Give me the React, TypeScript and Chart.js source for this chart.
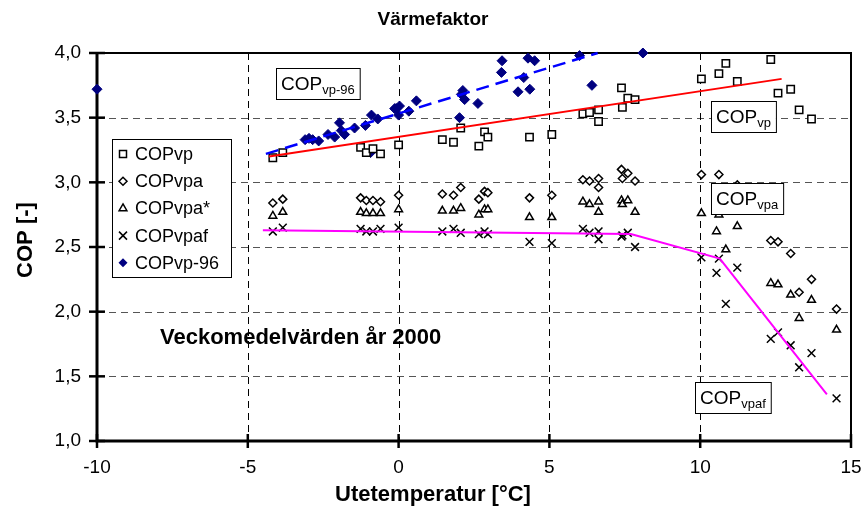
import React, { useEffect, useRef } from 'react';
import { Chart, registerables } from 'chart.js';

Chart.register(...registerables);

// Weekly mean outdoor temperatures (year 2000) and COP values
const weekTemps = [-4.17, -3.84, -1.26, -1.07, -0.85, -0.6, 0.0, 1.45, 1.82, 2.06, 2.66, 2.85, 2.96, 4.34, 5.08, 6.11, 6.33, 6.63, 6.63, 7.39, 7.42, 7.6, 7.84, 10.04, 10.62, 10.54, 10.85, 11.23, 12.34, 12.58, 13.0, 13.28, 13.69, 14.52];
const copVp = [3.19, 3.23, 3.27, 3.23, 3.26, 3.22, 3.29, 3.33, 3.31, 3.42, 3.28, 3.39, 3.35, 3.35, 3.37, 3.53, 3.54, 3.56, 3.47, 3.73, 3.58, 3.65, 3.64, 3.80, 3.84, null, 3.92, 3.78, 3.95, 3.69, 3.72, 3.56, 3.49, null];
const copVpa = [2.84, 2.87, 2.88, 2.86, 2.86, 2.85, 2.90, 2.91, 2.90, 2.96, 2.87, 2.93, 2.92, 2.88, 2.90, 3.02, 3.01, 3.03, 2.96, 3.10, 3.03, 3.07, 3.01, 3.06, 3.06, 2.92, 2.90, 2.98, 2.55, 2.54, 2.45, 2.15, 2.25, 2.02];
const copVpaStar = [2.74, 2.77, 2.77, 2.76, 2.76, 2.76, 2.79, 2.78, 2.78, 2.80, 2.75, 2.79, 2.79, 2.73, 2.73, 2.85, 2.83, 2.85, 2.77, 2.86, 2.83, 2.86, 2.77, 2.76, 2.75, 2.62, 2.48, 2.66, 2.22, 2.21, 2.13, 1.95, 2.09, 1.86];
const copVpaf = [2.62, 2.65, 2.64, 2.62, 2.62, 2.64, 2.65, 2.62, 2.64, 2.61, 2.60, 2.62, 2.60, 2.54, 2.53, 2.64, 2.61, 2.62, 2.56, 2.58, 2.59, 2.61, 2.50, 2.42, 2.41, 2.30, 2.06, 2.34, 1.79, 1.84, 1.74, 1.57, 1.68, 1.33];

// COPvp-96 (1996 data)
const temps96 = [-10.0, -3.1, -2.97, -2.85, -2.65, -2.34, -2.12, -1.96, -1.9, -1.79, -1.46, -1.1, -0.93, -0.9, -0.69, -0.13, -0.08, 0.0, 0.03, 0.34, 0.59, 2.02, 2.08, 2.13, 2.19, 2.63, 3.41, 3.43, 3.96, 4.15, 4.29, 4.35, 4.51, 6.0, 6.41, 8.1];
const copVp96 = [3.72, 3.33, 3.34, 3.33, 3.32, 3.37, 3.35, 3.46, 3.40, 3.37, 3.42, 3.44, 3.23, 3.52, 3.49, 3.57, 3.57, 3.52, 3.59, 3.55, 3.63, 3.50, 3.68, 3.71, 3.64, 3.61, 3.85, 3.94, 3.70, 3.81, 3.96, 3.72, 3.94, 3.98, 3.75, 4.0];

// Trend lines
const trendVpX = [-4.3, 12.7];
const trendVpY = [3.2, 3.8];
const trendVp96X = [-4.4, 6.6];
const trendVp96Y = [3.22, 4.0];
const trendVpafX = [-4.5, 7.7, 10.65, 14.2];
const trendVpafY = [2.63, 2.6, 2.41, 1.36];

const xTickValues = [-10, -5, 0, 5, 10, 15];
const yTickValues = [1.0, 1.5, 2.0, 2.5, 3.0, 3.5, 4.0];

const legendItems = ['COPvp', 'COPvpa', 'COPvpa*', 'COPvpaf', 'COPvp-96'];

const FONT = 'Arial, "Liberation Sans", sans-serif';

function pts(xs: number[], ys: (number | null)[]) {
  const out: { x: number; y: number }[] = [];
  xs.forEach((x, i) => {
    const y = ys[i];
    if (y !== null && y !== undefined) out.push({ x, y });
  });
  return out;
}

function drawMarker(ctx: CanvasRenderingContext2D, style: string, x: number, y: number) {
  ctx.save();
  ctx.lineWidth = 1.5;
  ctx.strokeStyle = '#000';
  ctx.fillStyle = '#fff';
  ctx.beginPath();
  if (style === 'rect') {
    ctx.rect(x - 3.5, y - 3.5, 7, 7);
    ctx.fill();
    ctx.stroke();
  } else if (style === 'rectRot') {
    ctx.moveTo(x - 4, y);
    ctx.lineTo(x, y - 4);
    ctx.lineTo(x + 4, y);
    ctx.lineTo(x, y + 4);
    ctx.closePath();
    ctx.fill();
    ctx.stroke();
  } else if (style === 'triangle') {
    ctx.moveTo(x, y - 4.5);
    ctx.lineTo(x + 3.9, y + 2.3);
    ctx.lineTo(x - 3.9, y + 2.3);
    ctx.closePath();
    ctx.fill();
    ctx.stroke();
  } else if (style === 'crossRot') {
    ctx.moveTo(x - 4, y - 4);
    ctx.lineTo(x + 4, y + 4);
    ctx.moveTo(x + 4, y - 4);
    ctx.lineTo(x - 4, y + 4);
    ctx.stroke();
  } else if (style === 'filled') {
    ctx.fillStyle = '#000080';
    ctx.moveTo(x - 4.5, y);
    ctx.lineTo(x, y - 4.5);
    ctx.lineTo(x + 4.5, y);
    ctx.lineTo(x, y + 4.5);
    ctx.closePath();
    ctx.fill();
  }
  ctx.restore();
}

function drawLabelBox(ctx: CanvasRenderingContext2D, left: number, top: number, sub: string) {
  ctx.save();
  ctx.font = `19px ${FONT}`;
  const w1 = ctx.measureText('COP').width;
  ctx.font = `13px ${FONT}`;
  const w2 = ctx.measureText(sub).width;
  const w = w1 + w2 + 10;
  const h = 31;
  ctx.fillStyle = '#fff';
  ctx.fillRect(left, top, w, h);
  ctx.strokeStyle = '#000';
  ctx.lineWidth = 1;
  ctx.strokeRect(left + 0.5, top + 0.5, w, h);
  ctx.fillStyle = '#000';
  ctx.textBaseline = 'alphabetic';
  ctx.textAlign = 'left';
  ctx.font = `19px ${FONT}`;
  ctx.fillText('COP', left + 5, top + 22);
  ctx.font = `13px ${FONT}`;
  ctx.fillText(sub, left + 5 + w1, top + 26);
  ctx.restore();
}

export default function App() {
  const ref = useRef<HTMLCanvasElement>(null);

  useEffect(() => {
    const canvas = ref.current;
    if (!canvas) return;

    const decor = {
      id: 'decor',
      beforeDatasetsDraw(chart: any) {
        const ctx: CanvasRenderingContext2D = chart.ctx;
        const { left, right, top, bottom } = chart.chartArea;
        const xs = chart.scales.x;
        const ys = chart.scales.y;
        ctx.save();
        ctx.lineWidth = 1;
        // horizontal grid
        ctx.strokeStyle = '#555';
        ctx.setLineDash([7, 5]);
        yTickValues.forEach((v) => {
          if (v <= 1 || v >= 4) return;
          const y = Math.round(ys.getPixelForValue(v)) + 0.5;
          ctx.beginPath();
          ctx.moveTo(left, y);
          ctx.lineTo(right, y);
          ctx.stroke();
        });
        // vertical grid
        ctx.strokeStyle = '#000';
        xTickValues.forEach((v) => {
          if (v <= -10 || v >= 15) return;
          const x = Math.round(xs.getPixelForValue(v)) + 0.5;
          ctx.beginPath();
          ctx.moveTo(x, top);
          ctx.lineTo(x, bottom);
          ctx.stroke();
        });
        ctx.setLineDash([]);
        // top & right border
        ctx.strokeStyle = '#000';
        ctx.lineWidth = 2;
        ctx.beginPath();
        ctx.moveTo(left, top);
        ctx.lineTo(right, top);
        ctx.lineTo(right, bottom);
        ctx.stroke();
        // axes
        ctx.lineWidth = 3;
        ctx.beginPath();
        ctx.moveTo(left, top - 1);
        ctx.lineTo(left, bottom);
        ctx.lineTo(right + 1, bottom);
        ctx.stroke();
        // ticks
        ctx.lineWidth = 2.5;
        yTickValues.forEach((v) => {
          const y = ys.getPixelForValue(v);
          ctx.beginPath();
          ctx.moveTo(left - 8, y);
          ctx.lineTo(left + 8, y);
          ctx.stroke();
        });
        xTickValues.forEach((v) => {
          const x = xs.getPixelForValue(v);
          ctx.beginPath();
          ctx.moveTo(x, bottom - 7);
          ctx.lineTo(x, bottom + 7);
          ctx.stroke();
        });
        ctx.restore();
      },
      afterDatasetsDraw(chart: any) {
        const ctx: CanvasRenderingContext2D = chart.ctx;
        const { top, bottom } = chart.chartArea;
        ctx.save();
        // label boxes
        drawLabelBox(ctx, 276, 68, 'vp-96');
        drawLabelBox(ctx, 711, 101, 'vp');
        drawLabelBox(ctx, 711, 183, 'vpa');
        drawLabelBox(ctx, 695, 382, 'vpaf');

        // legend
        ctx.fillStyle = '#fff';
        ctx.fillRect(112, 139, 119, 138);
        ctx.strokeStyle = '#000';
        ctx.lineWidth = 1;
        ctx.strokeRect(112.5, 139.5, 119, 138);
        const styles = ['rect', 'rectRot', 'triangle', 'crossRot', 'filled'];
        legendItems.forEach((t, i) => {
          const y = 154 + i * 27.2;
          drawMarker(ctx, styles[i], 123, y);
          ctx.fillStyle = '#000';
          ctx.font = `18px ${FONT}`;
          ctx.textAlign = 'left';
          ctx.textBaseline = 'middle';
          ctx.fillText(t, 135, y + 1);
        });

        // inner note
        ctx.fillStyle = '#000';
        ctx.font = `bold 22px ${FONT}`;
        ctx.textAlign = 'left';
        ctx.textBaseline = 'middle';
        ctx.fillText('Veckomedelvärden år 2000', 160, 338);

        // title
        ctx.font = `bold 19px ${FONT}`;
        ctx.textAlign = 'center';
        ctx.fillText('Värmefaktor', 433, 20);

        // axis titles
        ctx.font = `bold 22px ${FONT}`;
        ctx.fillText('Utetemperatur [°C]', 433, 495);
        ctx.save();
        ctx.translate(26, (top + bottom) / 2 - 7);
        ctx.rotate(-Math.PI / 2);
        ctx.fillText('COP [-]', 0, 0);
        ctx.restore();
        ctx.restore();
      },
    };

    const chart = new Chart(canvas, {
      type: 'scatter',
      data: {
        datasets: [
          {
            label: 'trendVp',
            data: pts(trendVpX, trendVpY),
            showLine: true,
            borderColor: '#ff0000',
            borderWidth: 2,
            pointRadius: 0,
            order: 0,
            clip: false,
          },
          {
            label: 'trendVp96',
            data: pts(trendVp96X, trendVp96Y),
            showLine: true,
            borderColor: '#0000ff',
            borderWidth: 2.5,
            borderDash: [13, 7],
            pointRadius: 0,
            order: 0,
            clip: false,
          },
          {
            label: 'trendVpaf',
            data: pts(trendVpafX, trendVpafY),
            showLine: true,
            borderColor: '#ff00ff',
            borderWidth: 2,
            pointRadius: 0,
            order: 0,
            clip: false,
          },
          {
            label: 'COPvp',
            data: pts(weekTemps, copVp),
            pointStyle: 'rect',
            pointRadius: 5.2,
            pointBackgroundColor: '#fff',
            pointBorderColor: '#000',
            pointBorderWidth: 1.5,
            order: 1,
            clip: false,
          },
          {
            label: 'COPvpa',
            data: pts(weekTemps, copVpa),
            pointStyle: 'rectRot',
            pointRadius: 4,
            pointBackgroundColor: '#fff',
            pointBorderColor: '#000',
            pointBorderWidth: 1.5,
            order: 1,
            clip: false,
          },
          {
            label: 'COPvpa*',
            data: pts(weekTemps, copVpaStar),
            pointStyle: 'triangle',
            pointRadius: 4.5,
            pointBackgroundColor: '#fff',
            pointBorderColor: '#000',
            pointBorderWidth: 1.5,
            order: 1,
            clip: false,
          },
          {
            label: 'COPvpaf',
            data: pts(weekTemps, copVpaf),
            pointStyle: 'crossRot',
            pointRadius: 5.5,
            pointBorderColor: '#000',
            pointBorderWidth: 1.5,
            order: 1,
            clip: false,
          },
          {
            label: 'COPvp-96',
            data: pts(temps96, copVp96),
            pointStyle: 'rectRot',
            pointRadius: 5,
            pointBackgroundColor: '#000080',
            pointBorderColor: '#000080',
            pointBorderWidth: 1,
            order: 1,
            clip: false,
          },
        ],
      },
      options: {
        responsive: false,
        animation: false,
        events: [],
        layout: { padding: { top: 53, right: 15, left: 0, bottom: 0 } },
        plugins: {
          legend: { display: false },
          title: { display: false },
          tooltip: { enabled: false },
        },
        scales: {
          x: {
            type: 'linear',
            min: -10,
            max: 15,
            afterBuildTicks: (s: any) => {
              s.ticks = xTickValues.map((v) => ({ value: v }));
            },
            ticks: {
              font: { family: FONT, size: 19 },
              color: '#000',
              padding: 15,
              maxRotation: 0,
              callback: (v: any) => String(v),
            },
            grid: { display: false, drawTicks: false },
            border: { display: false },
            afterFit: (s: any) => {
              s.height = 75;
              s.paddingLeft = 0;
              s.paddingRight = 0;
            },
          },
          y: {
            type: 'linear',
            min: 1,
            max: 4,
            afterBuildTicks: (s: any) => {
              s.ticks = yTickValues.map((v) => ({ value: v }));
            },
            ticks: {
              font: { family: FONT, size: 19 },
              color: '#000',
              padding: 16,
              callback: (v: any) => Number(v).toFixed(1).replace('.', ','),
            },
            grid: { display: false, drawTicks: false },
            border: { display: false },
            afterFit: (s: any) => {
              s.width = 97;
              s.paddingTop = 0;
              s.paddingBottom = 0;
            },
          },
        },
      },
      plugins: [decor],
    });

    return () => chart.destroy();
  }, []);

  return (
    <div style={{ position: 'absolute', left: 0, top: 0, width: 866, height: 516, background: '#fff' }}>
      <canvas ref={ref} width={866} height={516} style={{ display: 'block' }} />
    </div>
  );
}
